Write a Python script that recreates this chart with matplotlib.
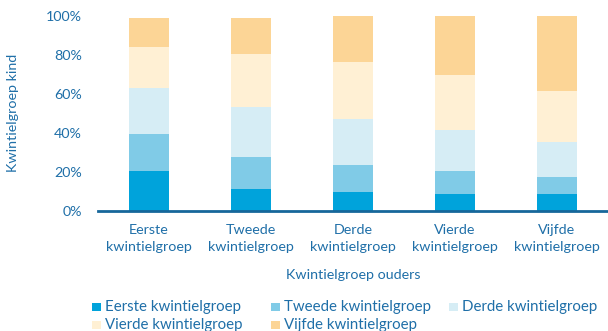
import numpy as np
import matplotlib.pyplot as plt
from matplotlib.patches import Rectangle
from matplotlib.ticker import PercentFormatter

plt.rcParams['font.family'] = ['Lato', 'DejaVu Sans']

# Kwintielgroep ouders (x-as) en aandeel per kwintielgroep kind (%)
ouders = ['Eerste\nkwintielgroep', 'Tweede\nkwintielgroep', 'Derde\nkwintielgroep',
          'Vierde\nkwintielgroep', 'Vijfde\nkwintielgroep']
kind_groepen = ['Eerste kwintielgroep', 'Tweede kwintielgroep', 'Derde kwintielgroep',
                'Vierde kwintielgroep', 'Vijfde kwintielgroep']
eerste = [20.3, 11.2, 9.5, 8.5, 8.5]
tweede = [19.0, 16.3, 13.9, 11.8, 8.7]
derde = [23.7, 25.7, 23.7, 21.2, 18.0]
vierde = [21.1, 27.0, 29.1, 27.9, 26.0]
vijfde = [14.6, 18.5, 23.8, 30.6, 38.8]

kleuren = ['#00a3db', '#80cbe7', '#d6edf5', '#fff0d4', '#fcd596']
tekstkleur = '#1f6fa8'

W, H = 608, 331
fig = plt.figure(figsize=(W / 100, H / 100), dpi=100)
ax = fig.add_axes([98 / W, 1 - 210.5 / H, 510 / W, (210.5 - 15.7) / H])

x = np.arange(len(ouders))
onder = np.zeros(len(ouders))
for reeks, kleur, naam in zip([eerste, tweede, derde, vierde, vijfde], kleuren, kind_groepen):
    waarden = np.array(reeks) / 100
    ax.bar(x, waarden, width=0.4, bottom=onder, color=kleur, label=naam, linewidth=0)
    onder += waarden

ax.set_xlim(-0.5, 4.5)
ax.set_ylim(0, 1)
ax.set_yticks(np.arange(0, 1.01, 0.2))
ax.yaxis.set_major_formatter(PercentFormatter(1.0, decimals=0))
ax.set_xticks(x)
ax.set_xticklabels(ouders, linespacing=1.5)
ax.tick_params(axis='both', length=0, colors=tekstkleur, labelsize=10.3)
ax.tick_params(axis='x', pad=10)
ax.tick_params(axis='y', pad=11.5)
for kant in ['top', 'right', 'left']:
    ax.spines[kant].set_visible(False)
ax.spines['bottom'].set_color('#16679a')
ax.spines['bottom'].set_linewidth(2)

ax.set_xlabel('Kwintielgroep ouders', color=tekstkleur, fontsize=10.3, labelpad=11)
fig.text(13 / W, 1 - 113 / H, 'Kwintielgroep kind', color=tekstkleur, fontsize=10.3,
         rotation=90, ha='center', va='center')

# legenda: vast raster van drie kolommen, rij voor rij gevuld
kolom_x = [92, 271, 449]
rij_y = [306.7, 325.0]
for i, (kleur, naam) in enumerate(zip(kleuren, kind_groepen)):
    kx = kolom_x[i % 3]
    ky = rij_y[i // 3]
    fig.patches.append(Rectangle((kx / W, 1 - (ky + 4) / H), 8.5 / W, 8 / H,
                                 transform=fig.transFigure, facecolor=kleur,
                                 edgecolor='none'))
    fig.text((kx + 13) / W, 1 - ky / H, naam, color=tekstkleur, fontsize=10.8,
             ha='left', va='center')

fig.savefig('out.png', dpi=100)
